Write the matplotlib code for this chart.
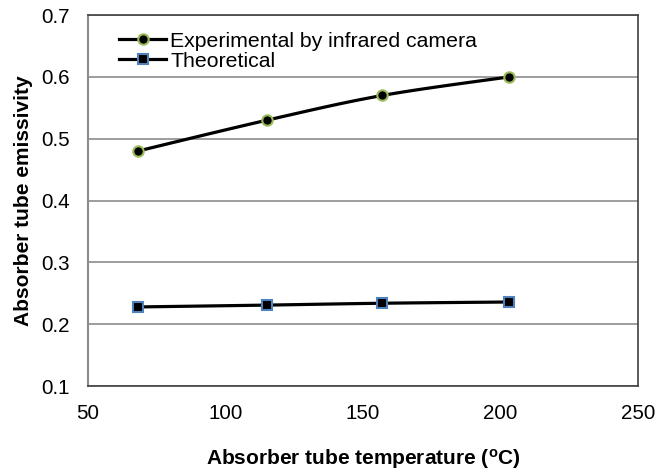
import matplotlib
matplotlib.use("Agg")
import matplotlib.pyplot as plt
import numpy as np

plt.rcParams['font.family'] = ['Liberation Sans', 'DejaVu Sans']

# data
temp_exp = [68, 115, 157, 203]
emis_exp = [0.48, 0.53, 0.57, 0.60]
temp_theo = [68, 115, 157, 203]
emis_theo = [0.228, 0.231, 0.234, 0.236]


def smooth(x, y, n=30):
    # Catmull-Rom style bezier, like a spreadsheet "smoothed line"
    x = np.asarray(x, float)
    y = np.asarray(y, float)
    xs, ys = [], []
    for i in range(len(x) - 1):
        p0 = np.array([x[max(i - 1, 0)], y[max(i - 1, 0)]])
        p1 = np.array([x[i], y[i]])
        p2 = np.array([x[i + 1], y[i + 1]])
        p3 = np.array([x[min(i + 2, len(x) - 1)], y[min(i + 2, len(x) - 1)]])
        c1 = p1 + (p2 - p0) / 6
        c2 = p2 - (p3 - p1) / 6
        t = np.linspace(0, 1, n, endpoint=False)[:, None]
        pts = ((1 - t)**3 * p1 + 3 * (1 - t)**2 * t * c1
               + 3 * (1 - t) * t**2 * c2 + t**3 * p2)
        xs.extend(pts[:, 0])
        ys.extend(pts[:, 1])
    xs.append(x[-1])
    ys.append(y[-1])
    marks = list(range(0, n * (len(x) - 1) + 1, n))
    return xs, ys, marks


fig = plt.figure(figsize=(6.55, 4.72), dpi=100)
ax = fig.add_axes([0.1344, 0.182, 0.8396, 0.786])

sx, sy, mk = smooth(temp_exp, emis_exp)
ax.plot(sx, sy, color='black', lw=2.3, marker='o', markevery=mk,
        markersize=7.5, markerfacecolor='black', markeredgecolor='#9BBB59',
        markeredgewidth=1.5, label='Experimental by infrared camera', zorder=3)

sx, sy, mk = smooth(temp_theo, emis_theo)
ax.plot(sx, sy, color='black', lw=2.3, marker='s', markevery=mk,
        markersize=7, markerfacecolor='black', markeredgecolor='#4F81BD',
        markeredgewidth=1.5, label='Theoretical', zorder=3)

ax.set_xlim(50, 250)
ax.set_ylim(0.1, 0.7)
ax.set_xticks([50, 100, 150, 200, 250])
ax.set_yticks([0.1, 0.2, 0.3, 0.4, 0.5, 0.6, 0.7])
ax.set_yticklabels(['0.1', '0.2', '0.3', '0.4', '0.5', '0.6', '0.7'])
ax.yaxis.grid(True, color='#8C8C8C', lw=1.2)
ax.set_axisbelow(True)
ax.tick_params(axis='both', length=0, labelsize=14.8)
ax.tick_params(axis='x', pad=13)
ax.tick_params(axis='y', pad=13)

for side in ['top', 'right', 'bottom']:
    ax.spines[side].set_color('#404040')
    ax.spines[side].set_linewidth(1.2)
ax.spines['left'].set_color('#8C8C8C')
ax.spines['left'].set_linewidth(1.5)

ax.set_xlabel('Absorber tube temperature ($\\mathregular{^{o}}$C)',
              fontsize=15, fontweight='bold', labelpad=17)
ax.set_ylabel('Absorber tube emissivity', fontsize=15, fontweight='bold',
              labelpad=6)

ax.legend(loc='upper left', bbox_to_anchor=(0.03, 0.995), frameon=False,
          fontsize=15.3, handlelength=2.2, handletextpad=0.2, borderpad=0.2,
          labelspacing=0.05, numpoints=1)

fig.savefig('out.png', dpi=100)
